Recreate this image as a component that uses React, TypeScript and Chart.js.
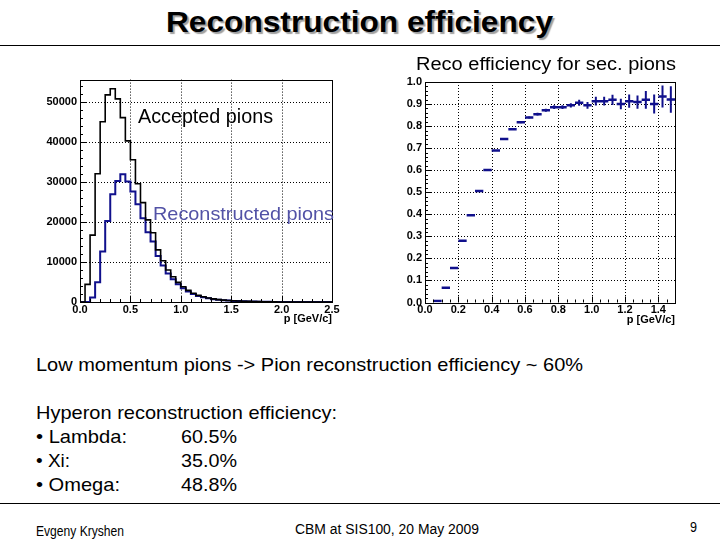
import React, { useEffect, useRef } from "react";
import { Chart, registerables } from "chart.js";
Chart.register(...registerables);

const FONT = '"Liberation Sans", Arial, Helvetica, sans-serif';
const NAVY = "#10108c";

// ---- Left plot: momentum spectra, bins of 0.05 GeV/c from 0 to 2.5 ----
const HIST_EDGES = [
  0, 0.05, 0.1, 0.15, 0.2, 0.25, 0.3, 0.35, 0.4, 0.45, 0.5, 0.55, 0.6, 0.65, 0.7, 0.75, 0.8, 0.85, 0.9, 0.95,
  1.0, 1.05, 1.1, 1.15, 1.2, 1.25, 1.3, 1.35, 1.4, 1.45, 1.5, 1.55, 1.6, 1.65, 1.7, 1.75, 1.8, 1.85, 1.9, 1.95,
  2.0, 2.05, 2.1, 2.15, 2.2, 2.25, 2.3, 2.35, 2.4, 2.45, 2.5,
];
const ACCEPTED = [
  0, 4400, 16700, 32000, 45000, 51700, 53200, 50700, 46000, 40200,
  35500, 29500, 24800, 20500, 17300, 13000, 10300, 8000, 6300, 4900,
  3800, 2900, 2200, 1650, 1300, 1000, 780, 600, 480, 380,
  300, 240, 190, 150, 120, 95, 75, 50, 30, 15,
  0, 0, 0, 0, 0, 0, 0, 0, 0, 0,
];
const RECONSTRUCTED = [
  0, 30, 1100, 4900, 12600, 20200, 26900, 30200, 31900, 30100,
  27600, 24400, 20900, 17400, 15100, 11500, 9100, 7100, 5650, 4400,
  3450, 2650, 2000, 1500, 1180, 910, 710, 540, 440, 350,
  275, 220, 175, 138, 110, 87, 68, 46, 27, 14,
  0, 0, 0, 0, 0, 0, 0, 0, 0, 0,
];
const LEFT_X_TICKS = [0, 0.5, 1.0, 1.5, 2.0, 2.5];
const LEFT_Y_TICKS = [0, 10000, 20000, 30000, 40000, 50000];

// ---- Right plot: efficiency, bins of 0.05 GeV/c from 0 to 1.5 ----
const EFF_EDGES = [
  0, 0.05, 0.1, 0.15, 0.2, 0.25, 0.3, 0.35, 0.4, 0.45, 0.5, 0.55, 0.6, 0.65, 0.7, 0.75,
  0.8, 0.85, 0.9, 0.95, 1.0, 1.05, 1.1, 1.15, 1.2, 1.25, 1.3, 1.35, 1.4, 1.45, 1.5,
];
const EFFICIENCY = [
  null, 0.007, 0.067, 0.157, 0.28, 0.396, 0.506, 0.601, 0.689, 0.741,
  0.786, 0.817, 0.839, 0.854, 0.872, 0.886, 0.886, 0.894, 0.906, 0.894,
  0.913, 0.913, 0.919, 0.9, 0.913, 0.909, 0.919, 0.9, 0.934, 0.921,
];
const EFF_ERROR = [
  null, 0.001, 0.002, 0.002, 0.002, 0.002, 0.002, 0.002, 0.002, 0.003,
  0.003, 0.004, 0.005, 0.006, 0.007, 0.008, 0.009, 0.01, 0.014, 0.015,
  0.02, 0.02, 0.023, 0.024, 0.03, 0.03, 0.04, 0.043, 0.05, 0.06,
];
const RIGHT_X_TICKS = [0, 0.2, 0.4, 0.6, 0.8, 1.0, 1.2, 1.4];
const RIGHT_Y_TICKS = [0, 0.1, 0.2, 0.3, 0.4, 0.5, 0.6, 0.7, 0.8, 0.9, 1.0];

const AXIS_TITLE = "p [GeV/c]";

function histPoints(edges: number[], values: number[]) {
  const pts = values.map((v, i) => ({ x: edges[i], y: v }));
  pts.push({ x: edges[values.length], y: values[values.length - 1] });
  return pts;
}

function effBars() {
  const pts: { x: number; y: number | null }[] = [];
  EFFICIENCY.forEach((v, i) => {
    if (v === null) return;
    pts.push({ x: EFF_EDGES[i], y: v });
    pts.push({ x: EFF_EDGES[i + 1], y: v });
    pts.push({ x: EFF_EDGES[i + 1], y: null });
  });
  return pts;
}

function effErrors() {
  const pts: { x: number; y: number | null }[] = [];
  EFFICIENCY.forEach((v, i) => {
    if (v === null) return;
    const e = EFF_ERROR[i] as number;
    const c = (EFF_EDGES[i] + EFF_EDGES[i + 1]) / 2;
    pts.push({ x: c, y: v - e });
    pts.push({ x: c, y: v + e });
    pts.push({ x: c, y: null });
  });
  return pts;
}

const rootFrame = {
  id: "rootFrame",
  beforeDatasetsDraw(chart: any) {
    const { ctx, chartArea: a, scales } = chart;
    const x = scales.x, y = scales.y;
    ctx.save();
    ctx.strokeStyle = "#000";
    ctx.lineWidth = 1;
    ctx.setLineDash([1, 2]);
    for (const t of x.ticks) {
      const px = Math.round(x.getPixelForValue(t.value)) + 0.5;
      if (px <= a.left + 2 || px >= a.right - 2) continue;
      ctx.beginPath(); ctx.moveTo(px, a.top); ctx.lineTo(px, a.bottom); ctx.stroke();
    }
    for (const t of y.ticks) {
      const py = Math.round(y.getPixelForValue(t.value)) + 0.5;
      if (py <= a.top + 2 || py >= a.bottom - 2) continue;
      ctx.beginPath(); ctx.moveTo(a.left, py); ctx.lineTo(a.right, py); ctx.stroke();
    }
    ctx.restore();
  },
  afterDatasetsDraw(chart: any, _args: any, opts: any) {
    const { ctx, chartArea: a, scales } = chart;
    const x = scales.x, y = scales.y;
    ctx.save();
    ctx.strokeStyle = "#000";
    ctx.lineWidth = 1;
    ctx.setLineDash([]);
    ctx.strokeRect(Math.round(a.left) + 0.5, Math.round(a.top) + 0.5, Math.round(a.right - a.left), Math.round(a.bottom - a.top));
    const xm = opts.xMinor, ym = opts.yMinor;
    const n = Math.round((x.max - x.min) / xm);
    for (let i = 1; i < n; i++) {
      const v = x.min + i * xm;
      const px = Math.round(x.getPixelForValue(v)) + 0.5;
      const major = Math.abs(v / opts.xMajor - Math.round(v / opts.xMajor)) < 1e-6;
      const len = major ? 6 : 3;
      ctx.beginPath(); ctx.moveTo(px, a.bottom); ctx.lineTo(px, a.bottom - len); ctx.stroke();
    }
    const m = Math.round((y.max - y.min) / ym);
    for (let i = 1; i <= m; i++) {
      const v = y.min + i * ym;
      if (v > y.max + 1e-9) break;
      const py = Math.round(y.getPixelForValue(v)) + 0.5;
      const major = Math.abs(v / opts.yMajor - Math.round(v / opts.yMajor)) < 1e-6;
      const len = major ? 6 : 3;
      ctx.beginPath(); ctx.moveTo(a.left, py); ctx.lineTo(a.left + len, py); ctx.stroke();
    }
    ctx.restore();
  },
};

const tickFont = { family: FONT, size: 11, weight: "bold" as const };

function axis(opts: {
  min: number; max: number; ticks: number[]; fit: (s: any) => void;
  fmt: (v: number) => string; padding: number; title?: { bottom: number };
}) {
  const cfg: any = {
    type: "linear",
    min: opts.min,
    max: opts.max,
    afterFit: opts.fit,
    afterBuildTicks: (s: any) => { s.ticks = opts.ticks.map((v) => ({ value: v })); },
    grid: { display: false, drawTicks: false },
    border: { display: false },
    ticks: {
      autoSkip: false,
      maxRotation: 0,
      padding: opts.padding,
      color: "#000",
      font: tickFont,
      callback: (v: any) => opts.fmt(Number(v)),
    },
  };
  if (opts.title) {
    cfg.title = {
      display: true,
      text: AXIS_TITLE,
      align: "end",
      color: "#000",
      font: tickFont,
      padding: { top: 0, bottom: opts.title.bottom },
    };
  }
  return cfg;
}

function LeftChart() {
  const ref = useRef<HTMLCanvasElement>(null);
  useEffect(() => {
    const chart = new Chart(ref.current!, {
      type: "line",
      data: {
        datasets: [
          {
            data: histPoints(HIST_EDGES, ACCEPTED),
            stepped: true,
            borderColor: "#000",
            borderWidth: 1.6,
            pointRadius: 0,
            fill: false,
          },
          {
            data: histPoints(HIST_EDGES, RECONSTRUCTED),
            stepped: true,
            borderColor: NAVY,
            borderWidth: 2,
            pointRadius: 0,
            fill: false,
          },
        ],
      },
      options: {
        animation: false,
        responsive: false,
        maintainAspectRatio: false,
        layout: { padding: { left: 0, top: 9.5, right: 18, bottom: 0 } },
        plugins: {
          legend: { display: false },
          tooltip: { enabled: false },
          rootFrame: { xMinor: 0.1, xMajor: 0.5, yMinor: 2000, yMajor: 10000 },
        } as any,
        scales: {
          x: axis({
            min: 0, max: 2.5, ticks: LEFT_X_TICKS, fit: (s) => { s.height = 33; },
            fmt: (v) => v.toFixed(1), padding: 1, title: { bottom: 9.4 },
          }),
          y: axis({
            min: 0, max: 55500, ticks: LEFT_Y_TICKS, fit: (s) => { s.width = 50; },
            fmt: (v) => String(Math.round(v)), padding: 3,
          }),
        },
      },
      plugins: [rootFrame],
    });
    return () => chart.destroy();
  }, []);
  return (
    <canvas
      ref={ref}
      width={320}
      height={265}
      style={{ position: "absolute", left: 30, top: 70, width: 320, height: 265 }}
    />
  );
}

function RightChart() {
  const ref = useRef<HTMLCanvasElement>(null);
  useEffect(() => {
    const chart = new Chart(ref.current!, {
      type: "line",
      data: {
        datasets: [
          {
            data: effBars(),
            borderColor: NAVY,
            borderWidth: 2.5,
            borderCapStyle: "butt",
            pointRadius: 0,
            spanGaps: false,
            fill: false,
          },
          {
            data: effErrors(),
            borderColor: NAVY,
            borderWidth: 2,
            borderCapStyle: "butt",
            pointRadius: 0,
            spanGaps: false,
            fill: false,
          },
        ],
      },
      options: {
        animation: false,
        responsive: false,
        maintainAspectRatio: false,
        layout: { padding: { left: 0, top: 12, right: 20, bottom: 0 } },
        plugins: {
          legend: { display: false },
          tooltip: { enabled: false },
          rootFrame: { xMinor: 0.05, xMajor: 0.2, yMinor: 0.02, yMajor: 0.1 },
        } as any,
        scales: {
          x: axis({
            min: 0, max: 1.5, ticks: RIGHT_X_TICKS, fit: (s) => { s.height = 32.5; },
            fmt: (v) => v.toFixed(1), padding: 1, title: { bottom: 8.4 },
          }),
          y: axis({
            min: 0, max: 1, ticks: RIGHT_Y_TICKS, fit: (s) => { s.width = 40; },
            fmt: (v) => v.toFixed(1), padding: 3,
          }),
        },
      },
      plugins: [rootFrame],
    });
    return () => chart.destroy();
  }, []);
  return (
    <canvas
      ref={ref}
      width={310}
      height={265}
      style={{ position: "absolute", left: 385, top: 70, width: 310, height: 265 }}
    />
  );
}

let measureCtx: CanvasRenderingContext2D | null = null;
function measure(text: string, font: string) {
  if (!measureCtx) measureCtx = document.createElement("canvas").getContext("2d");
  measureCtx!.font = font;
  return measureCtx!.measureText(text).width;
}

function FitText(props: {
  text: string; x: number; cy: number; size: number; width?: number;
  bold?: boolean; color?: string; shadow?: string;
}) {
  const { text, x, cy, size, width, bold, color, shadow } = props;
  const weight = bold ? "bold" : "normal";
  const font = `${weight} ${size}px ${FONT}`;
  const natural = measure(text, font);
  const scale = width ? width / natural : 1;
  return (
    <div
      style={{
        position: "absolute",
        left: x,
        top: cy - 0.4885 * size,
        fontFamily: FONT,
        fontSize: size,
        fontWeight: weight as any,
        lineHeight: `${size}px`,
        whiteSpace: "nowrap",
        color: color || "#000",
        transform: `scaleX(${scale})`,
        transformOrigin: "left top",
        textShadow: shadow,
        zIndex: 2,
      }}
    >
      {text}
    </div>
  );
}

export default function App() {
  return (
    <div
      style={{
        position: "fixed",
        left: 0,
        top: 0,
        width: 720,
        height: 540,
        background: "#fff",
        overflow: "hidden",
      }}
    >
      <FitText text="Reconstruction efficiency" x={166} cy={22} size={30} width={387} bold shadow="2px 2px 1px #a0a0a0" />
      <div style={{ position: "absolute", left: 0, top: 45, width: 720, height: 1, background: "#000" }} />

      <LeftChart />
      <RightChart />

      <FitText text="Reco efficiency for sec. pions" x={416} cy={64} size={18} width={260} />
      <FitText text="Accepted pions" x={138} cy={116} size={20} width={135} />
      <FitText text="Reconstructed pions" x={153} cy={213} size={19} width={181} color="#5252a6" />

      <FitText text="Low momentum pions -> Pion reconstruction efficiency ~ 60%" x={36} cy={364} size={19} width={547} />
      <FitText text="Hyperon reconstruction efficiency:" x={36} cy={412} size={19} width={301} />
      <FitText text="• Lambda:" x={36} cy={436} size={19} width={91} />
      <FitText text="60.5%" x={181} cy={436} size={19} width={56} />
      <FitText text="• Xi:" x={36} cy={460} size={19} width={34} />
      <FitText text="35.0%" x={181} cy={460} size={19} width={56} />
      <FitText text="• Omega:" x={36} cy={484} size={19} width={84} />
      <FitText text="48.8%" x={181} cy={484} size={19} width={56} />

      <div style={{ position: "absolute", left: 0, top: 503, width: 720, height: 1, background: "#000" }} />
      <FitText text="Evgeny Kryshen" x={36} cy={531} size={14} width={88} />
      <FitText text="CBM at SIS100, 20 May 2009" x={295} cy={529} size={14} width={184} />
      <FitText text="9" x={690} cy={527} size={14} width={7} />
    </div>
  );
}
